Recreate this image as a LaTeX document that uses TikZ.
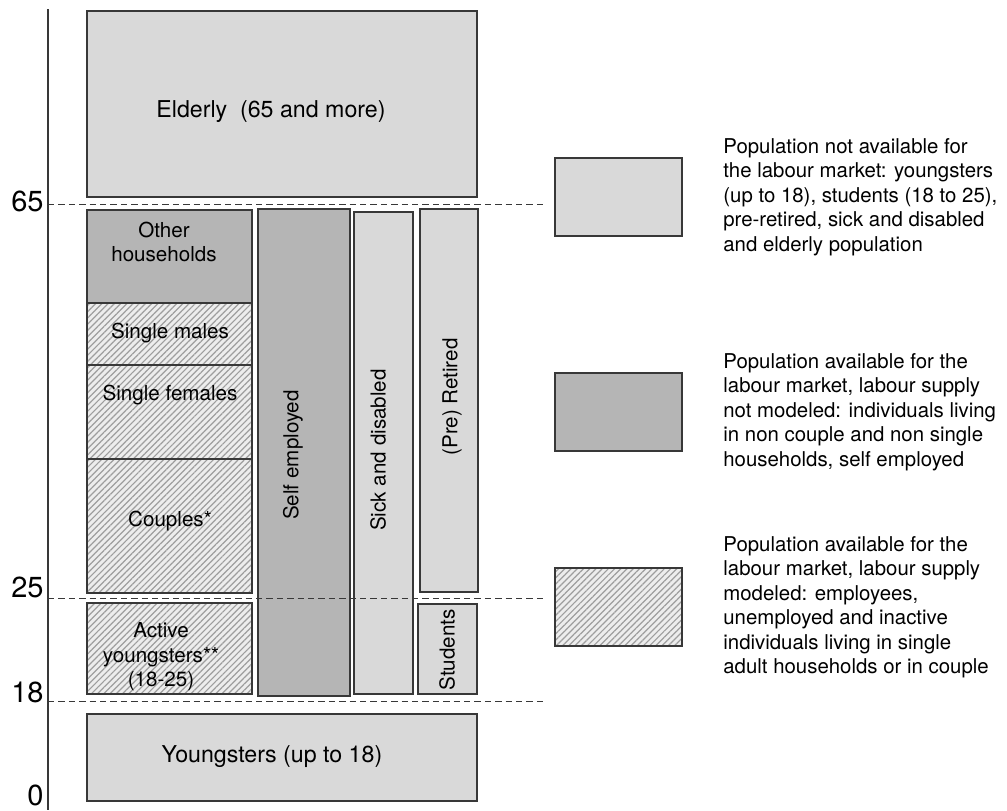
\documentclass[tikz,border=0pt]{standalone}
\usepackage{fontspec}
\setmainfont{TeX Gyre Heros}
\usepackage{xcolor}
\usepackage{tikz}
\usetikzlibrary{positioning}
\usetikzlibrary{patterns.meta}
\definecolor{lightfill}{gray}{0.85}
\definecolor{darkfill}{gray}{0.71}
\definecolor{hatchbg}{gray}{0.93}
\definecolor{hatchline}{gray}{0.62}
\definecolor{bordergray}{gray}{0.22}
\tikzstyle{cell}=[rectangle,draw=bordergray,line width=0.75pt,inner sep=0pt,outer sep=0pt]
\tikzstyle{outside}=[cell,fill=lightfill]
\tikzstyle{notmodel}=[cell,fill=darkfill]
\tikzstyle{model}=[cell,preaction={fill=hatchbg},pattern={Lines[angle=45,distance=2.2pt,line width=0.6pt]},pattern color=hatchline]
\tikzstyle{txt}=[font=\fontsize{10.3}{12.3}\selectfont,align=center,inner sep=0pt]
\tikzstyle{bigtxt}=[font=\fontsize{11.6}{14}\selectfont,inner sep=0pt]
\tikzstyle{agetxt}=[font=\fontsize{14.5}{17}\selectfont,anchor=base east,inner sep=0pt]
\tikzstyle{legtxt}=[font=\fontsize{10.2}{12.25}\selectfont,align=left,anchor=west,inner sep=0pt]
\tikzstyle{ageline}=[draw=bordergray,dash pattern=on 3.2pt off 2pt,line width=0.5pt]
\tikzstyle{axisline}=[draw=bordergray,line width=0.75pt]

\begin{document}
\begin{tikzpicture}[x=0.5pt,y=-0.5pt]

 \useasboundingbox (0,0) rectangle (1007,810);

 %axis
 \coordinate (axtop) at (48,9);
 \coordinate (axbot) at (48,810);
 \path[axisline] (axtop) -- (axbot);

 %boxes
   \foreach \xa/\ya/\xb/\yb/\name/\kind in {87/11/477/197/eld/outside, 87/210/252/303/oth/notmodel, 87/303/252/365/sgm/model, 87/365/252/459/sgf/model, 87/459/252/593/cpl/model, 87/603/252/694/act/model}
          \node[\kind, minimum width={(\xb-\xa)*0.5pt}, minimum height={(\yb-\ya)*0.5pt}] (\name) at ({(\xa+\xb)/2},{(\ya+\yb)/2}) {};

   \foreach \xa/\ya/\xb/\yb/\name/\kind in {258/209/350/696/self/notmodel, 354/212/413/694/sick/outside, 420/209/478/592/ret/outside, 418/604/477/694/stu/outside, 87/714/477/801/yng/outside}
          \node[\kind, minimum width={(\xb-\xa)*0.5pt}, minimum height={(\yb-\ya)*0.5pt}] (\name) at ({(\xa+\xb)/2},{(\ya+\yb)/2}) {};

 %legend
   \foreach \xa/\ya/\xb/\yb/\name/\kind in {555/158/682/236/leg1/outside, 555/373/682/451/leg2/notmodel, 555/568/682/646/leg3/model}
          \node[\kind, minimum width={(\xb-\xa)*0.5pt}, minimum height={(\yb-\ya)*0.5pt}] (\name) at ({(\xa+\xb)/2},{(\ya+\yb)/2}) {};

 %labels
 \node[bigtxt] (eldT) at (271,112) {Elderly\ \ (65 and more)};
 \node[bigtxt] (yngT) at (272,757) {Youngsters (up to 18)};

   \foreach \x/\y/\name/\label in {164/242/othT/{Other\\households}, 170/333/sgmT/{Single males}, 170/395/sgfT/{Single females}, 170/521/cplT/{Couples*}, 161/657/actT/{Active\\youngsters**\\(18-25)}}
          \node[txt] (\name) at (\x,\y) {\label};

   \foreach \x/\y/\name/\label in {293/455/selfT/{Self employed}, 378/450/sickT/{Sick and disabled}, 452/397/retT/{(Pre) Retired}, 447/650/stuT/{Students}}
          \node[txt, rotate=90] (\name) at (\x,\y) {\label};

 %age lines
   \foreach \y/\name/\label/\ly in {204/a65/65/211, 598/a25/25/597, 701/a18/18/702}
   {
     \coordinate (\name l) at (48,\y);
     \coordinate (\name r) at (545,\y);
     \path[ageline] (\name l) -- (\name r);
     \node[agetxt] (\name T) at (44,\ly) {\label};
   }
 \node[agetxt] (a0T) at (44,805) {0};

 %legend text
 \node[legtxt] (leg1T) at (723,197) {Population not available for\\the labour market: youngsters\\(up to 18), students (18 to 25),\\pre-retired, sick and disabled\\and elderly population};
 \node[legtxt] (leg2T) at (723,412) {Population available for the\\labour market, labour supply\\not modeled: individuals living\\in non couple and non single\\households, self employed};
 \node[legtxt] (leg3T) at (723,607) {Population available for the\\labour market, labour supply\\modeled: employees,\\unemployed and inactive\\individuals living in single\\adult households or in couple};

\end{tikzpicture}
\end{document}
